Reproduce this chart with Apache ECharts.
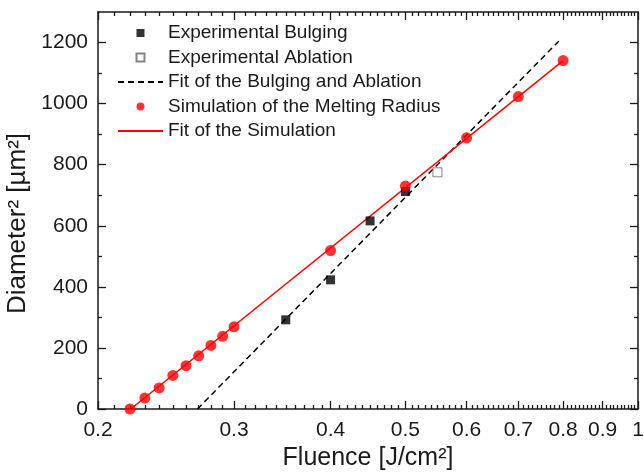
<!DOCTYPE html>
<html><head><meta charset="utf-8">
<script src="https://cdn.jsdelivr.net/npm/echarts@6/dist/echarts.min.js"></script>
<style>html,body{margin:0;padding:0;background:#fff}#c{width:644px;height:473px}</style>
</head><body><div id="c"></div>
<script>
// ---- data ----
const bulgingF = [0.35, 0.40, 0.45, 0.50];
const bulgingD2 = [292, 423, 616, 712];
const ablationF = [0.55];
const ablationD2 = [775];
const fitExpF = [0.269, 0.79];
const fitExpD2 = [0, 1205];
const simF = [0.22, 0.23, 0.24, 0.25, 0.26, 0.27, 0.28, 0.29, 0.30, 0.40, 0.50, 0.60, 0.70, 0.80];
const simD2 = [0, 36, 69, 110, 142, 174, 208, 238, 269, 519, 730, 888, 1023, 1141];
const fitSimF = [0.2205, 0.80];
const fitSimD2 = [0, 1141];
const seriesNames = ['Experimental Bulging', 'Experimental Ablation', 'Fit of the Bulging and Ablation', 'Simulation of the Melting Radius', 'Fit of the Simulation'];
const xMajorTicks = [0.2, 0.3, 0.4, 0.5, 0.6, 0.7, 0.8, 0.9, 1];
const xTickLabels = ['0.2', '0.3', '0.4', '0.5', '0.6', '0.7', '0.8', '0.9', '1'];
const yMajorTicks = [0, 200, 400, 600, 800, 1000, 1200];
const yTickLabels = ['0', '200', '400', '600', '800', '1000', '1200'];
const yMinorTicks = [100, 300, 500, 700, 900, 1100];
const xTitle = 'Fluence [J/cm²]';
const yTitle = 'Diameter² [µm²]';

// minor x ticks every 0.01 (tick positions only)
const xMinorTicks = [];
for (let k = 21; k < 100; k++) { if (k % 10 !== 0) xMinorTicks.push(k / 100); }

const lg = v => Math.log10(v);
const pairs = (xs, ys) => xs.map((x, i) => [lg(x), ys[i]]);
const FONT = 'Liberation Sans';
const axisColor = '#1a1a1a';
const txtColor = '#1a1a1a';

function xLabelFmt(v) {
  for (let i = 0; i < xMajorTicks.length; i++) if (Math.abs(lg(xMajorTicks[i]) - v) < 1e-6) return xTickLabels[i];
  return '';
}
function yLabelFmt(v) {
  const i = yMajorTicks.indexOf(Math.round(v));
  return i >= 0 ? yTickLabels[i] : '';
}

const xBase = {
  type: 'value', min: lg(0.2), max: lg(1), gridIndex: 0,
  splitLine: { show: false },
  axisLine: { show: false, onZero: false, lineStyle: { color: axisColor, width: 1.5 } },
  axisLabel: { show: false },
  axisTick: { show: false }
};
const yBase = {
  type: 'value', min: 0, max: 1300, gridIndex: 0,
  splitLine: { show: false },
  axisLine: { show: false, onZero: false, lineStyle: { color: axisColor, width: 1.5 } },
  axisLabel: { show: false },
  axisTick: { show: false }
};
function tick(values, len) {
  return { show: true, inside: true, length: len, customValues: values, lineStyle: { color: axisColor, width: 1.3 } };
}
const hiddenSym = { color: 'rgba(0,0,0,0)', borderWidth: 0 };

const option = {
  animation: false,
  backgroundColor: '#fff',
  textStyle: { fontFamily: FONT },
  grid: { left: 98, right: 6, top: 12, bottom: 64, containLabel: false, outerBoundsMode: 'none' },
  xAxis: [
    Object.assign({}, xBase, {
      position: 'bottom',
      axisLine: { show: true, onZero: false, lineStyle: { color: axisColor, width: 1.5 } },
      axisTick: tick(xMajorTicks.map(lg), 8),
      axisLabel: { show: true, customValues: xMajorTicks.map(lg), formatter: xLabelFmt, margin: 11, fontSize: 21, color: txtColor, fontFamily: FONT, showMinLabel: true, showMaxLabel: true },
      name: xTitle, nameLocation: 'middle', nameGap: 36,
      nameTextStyle: { fontSize: 25, color: txtColor, fontFamily: FONT }
    }),
    Object.assign({}, xBase, { position: 'bottom', axisTick: tick(xMinorTicks.map(lg), 4) }),
    Object.assign({}, xBase, {
      position: 'top',
      axisLine: { show: true, onZero: false, lineStyle: { color: axisColor, width: 1.5 } },
      axisTick: tick(xMajorTicks.map(lg), 8)
    }),
    Object.assign({}, xBase, { position: 'top', axisTick: tick(xMinorTicks.map(lg), 4) })
  ],
  yAxis: [
    Object.assign({}, yBase, {
      position: 'left',
      axisLine: { show: true, onZero: false, lineStyle: { color: axisColor, width: 1.5 } },
      axisTick: tick(yMajorTicks, 8),
      axisLabel: { show: true, customValues: yMajorTicks, formatter: yLabelFmt, margin: 10, fontSize: 21, color: txtColor, fontFamily: FONT },
      name: yTitle, nameLocation: 'middle', nameGap: 62,
      nameTextStyle: { fontSize: 26, color: txtColor, fontFamily: FONT, padding: [0, 26, 0, 0] }
    }),
    Object.assign({}, yBase, { position: 'left', axisTick: tick(yMinorTicks, 4) }),
    Object.assign({}, yBase, {
      position: 'right',
      axisLine: { show: true, onZero: false, lineStyle: { color: axisColor, width: 1.5 } },
      axisTick: tick(yMajorTicks, 8)
    }),
    Object.assign({}, yBase, { position: 'right', axisTick: tick(yMinorTicks, 4) })
  ],
  legend: {
    orient: 'vertical', left: 117, top: 23, padding: 0,
    itemWidth: 45, itemHeight: 8, itemGap: 4.5,
    symbolKeepAspect: true,
    selectedMode: false,
    textStyle: { fontFamily: FONT, fontSize: 19, color: txtColor, lineHeight: 20 },
    data: [
      { name: seriesNames[0], icon: 'path://M0,0H10V10H0Z' },
      { name: seriesNames[1], icon: 'path://M0,0H10V10H0Z' },
      { name: seriesNames[2] },
      { name: seriesNames[3], icon: 'circle' },
      { name: seriesNames[4] }
    ]
  },
  series: [
    {
      name: seriesNames[0], type: 'scatter', xAxisIndex: 0, yAxisIndex: 0,
      symbol: 'rect', symbolSize: 9, symbolKeepAspect: true, z: 3,
      itemStyle: { color: '#000' },
      data: pairs(bulgingF, bulgingD2)
    },
    {
      name: seriesNames[1], type: 'scatter', xAxisIndex: 0, yAxisIndex: 0,
      symbol: 'rect', symbolSize: 9, symbolKeepAspect: true, z: 3,
      itemStyle: { color: '#fff', borderColor: '#666', borderWidth: 1 },
      data: pairs(ablationF, ablationD2)
    },
    {
      name: seriesNames[2], type: 'line', xAxisIndex: 0, yAxisIndex: 0,
      symbol: 'none', z: 2,
      lineStyle: { color: '#000', width: 1.5, type: [6, 4] },
      itemStyle: hiddenSym,
      data: pairs(fitExpF, fitExpD2)
    },
    {
      name: seriesNames[3], type: 'scatter', xAxisIndex: 0, yAxisIndex: 0,
      symbol: 'circle', symbolSize: 11, z: 4,
      itemStyle: { color: '#ff0000' },
      data: pairs(simF, simD2)
    },
    {
      name: seriesNames[4], type: 'line', xAxisIndex: 0, yAxisIndex: 0,
      symbol: 'none', z: 2,
      lineStyle: { color: '#ff0000', width: 1.5 },
      itemStyle: hiddenSym,
      data: pairs(fitSimF, fitSimD2)
    }
  ]
};
const chart = echarts.init(document.getElementById('c'), null, { renderer: 'canvas' });
chart.setOption(option);
</script>
</body></html>
